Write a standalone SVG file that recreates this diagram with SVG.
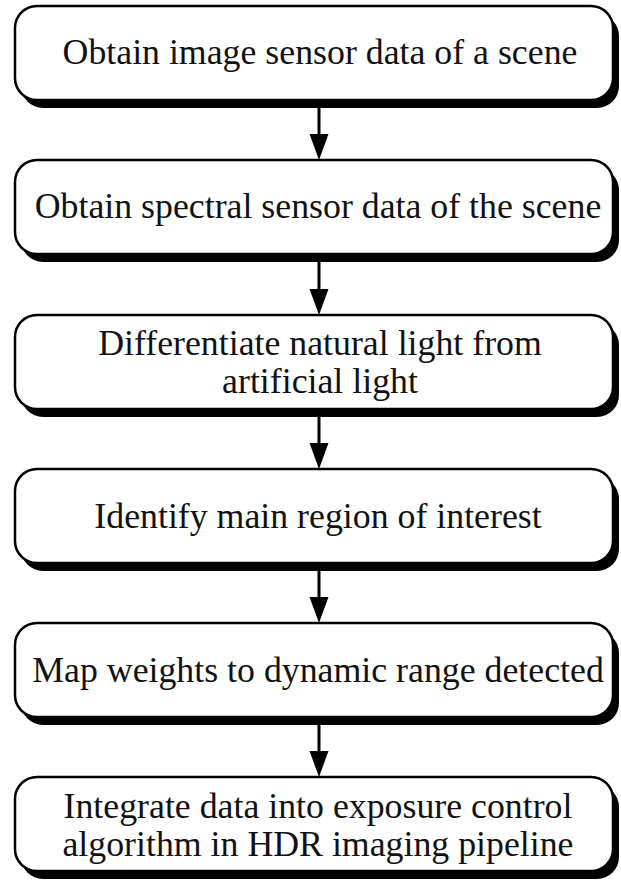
<svg xmlns="http://www.w3.org/2000/svg" width="621" height="881" viewBox="0 0 621 881">
<style>
.shadow{fill:#000;}
.box{fill:#fff;stroke:#000;stroke-width:2.5;}
.t{font-family:"Liberation Serif","Times New Roman",serif;font-size:35.8px;fill:#111;text-anchor:middle;}
.conn{stroke:#000;stroke-width:3;fill:none;}
.head{fill:#000;}
</style>
<rect width="621" height="881" fill="#fff"/>
<g id="connectors">
<line class="conn" x1="319" y1="108" x2="319" y2="136"/><polygon class="head" points="309.5,134 328.5,134 319,160"/>
<line class="conn" x1="319" y1="262" x2="319" y2="291"/><polygon class="head" points="309.5,289 328.5,289 319,315"/>
<line class="conn" x1="319" y1="417" x2="319" y2="445"/><polygon class="head" points="309.5,443 328.5,443 319,469"/>
<line class="conn" x1="319" y1="571" x2="319" y2="599"/><polygon class="head" points="309.5,597 328.5,597 319,623"/>
<line class="conn" x1="319" y1="725" x2="319" y2="753"/><polygon class="head" points="309.5,751 328.5,751 319,777"/>
</g>
<g id="n1">
<rect class="shadow" x="21" y="14" width="598" height="94" rx="22"/>
<rect class="box" x="15" y="6" width="598" height="94" rx="22"/>
<text class="t" x="320" y="64">Obtain image sensor data of a scene</text>
</g>
<g id="n2">
<rect class="shadow" x="21" y="168" width="598" height="94" rx="22"/>
<rect class="box" x="15" y="160" width="598" height="94" rx="22"/>
<text class="t" x="318" y="218">Obtain spectral sensor data of the scene</text>
</g>
<g id="n3">
<rect class="shadow" x="21" y="323" width="598" height="94" rx="22"/>
<rect class="box" x="15" y="315" width="598" height="94" rx="22"/>
<text class="t" x="320" y="355">Differentiate natural light from</text>
<text class="t" x="320" y="393">artificial light</text>
</g>
<g id="n4">
<rect class="shadow" x="21" y="477" width="598" height="94" rx="22"/>
<rect class="box" x="15" y="469" width="598" height="94" rx="22"/>
<text class="t" x="318" y="528">Identify main region of interest</text>
</g>
<g id="n5">
<rect class="shadow" x="21" y="631" width="598" height="94" rx="22"/>
<rect class="box" x="15" y="623" width="598" height="94" rx="22"/>
<text class="t" x="318" y="682">Map weights to dynamic range detected</text>
</g>
<g id="n6">
<rect class="shadow" x="21" y="785" width="598" height="94" rx="22"/>
<rect class="box" x="15" y="777" width="598" height="94" rx="22"/>
<text class="t" x="318" y="818">Integrate data into exposure control</text>
<text class="t" x="318" y="856">algorithm in HDR imaging pipeline</text>
</g>
</svg>
